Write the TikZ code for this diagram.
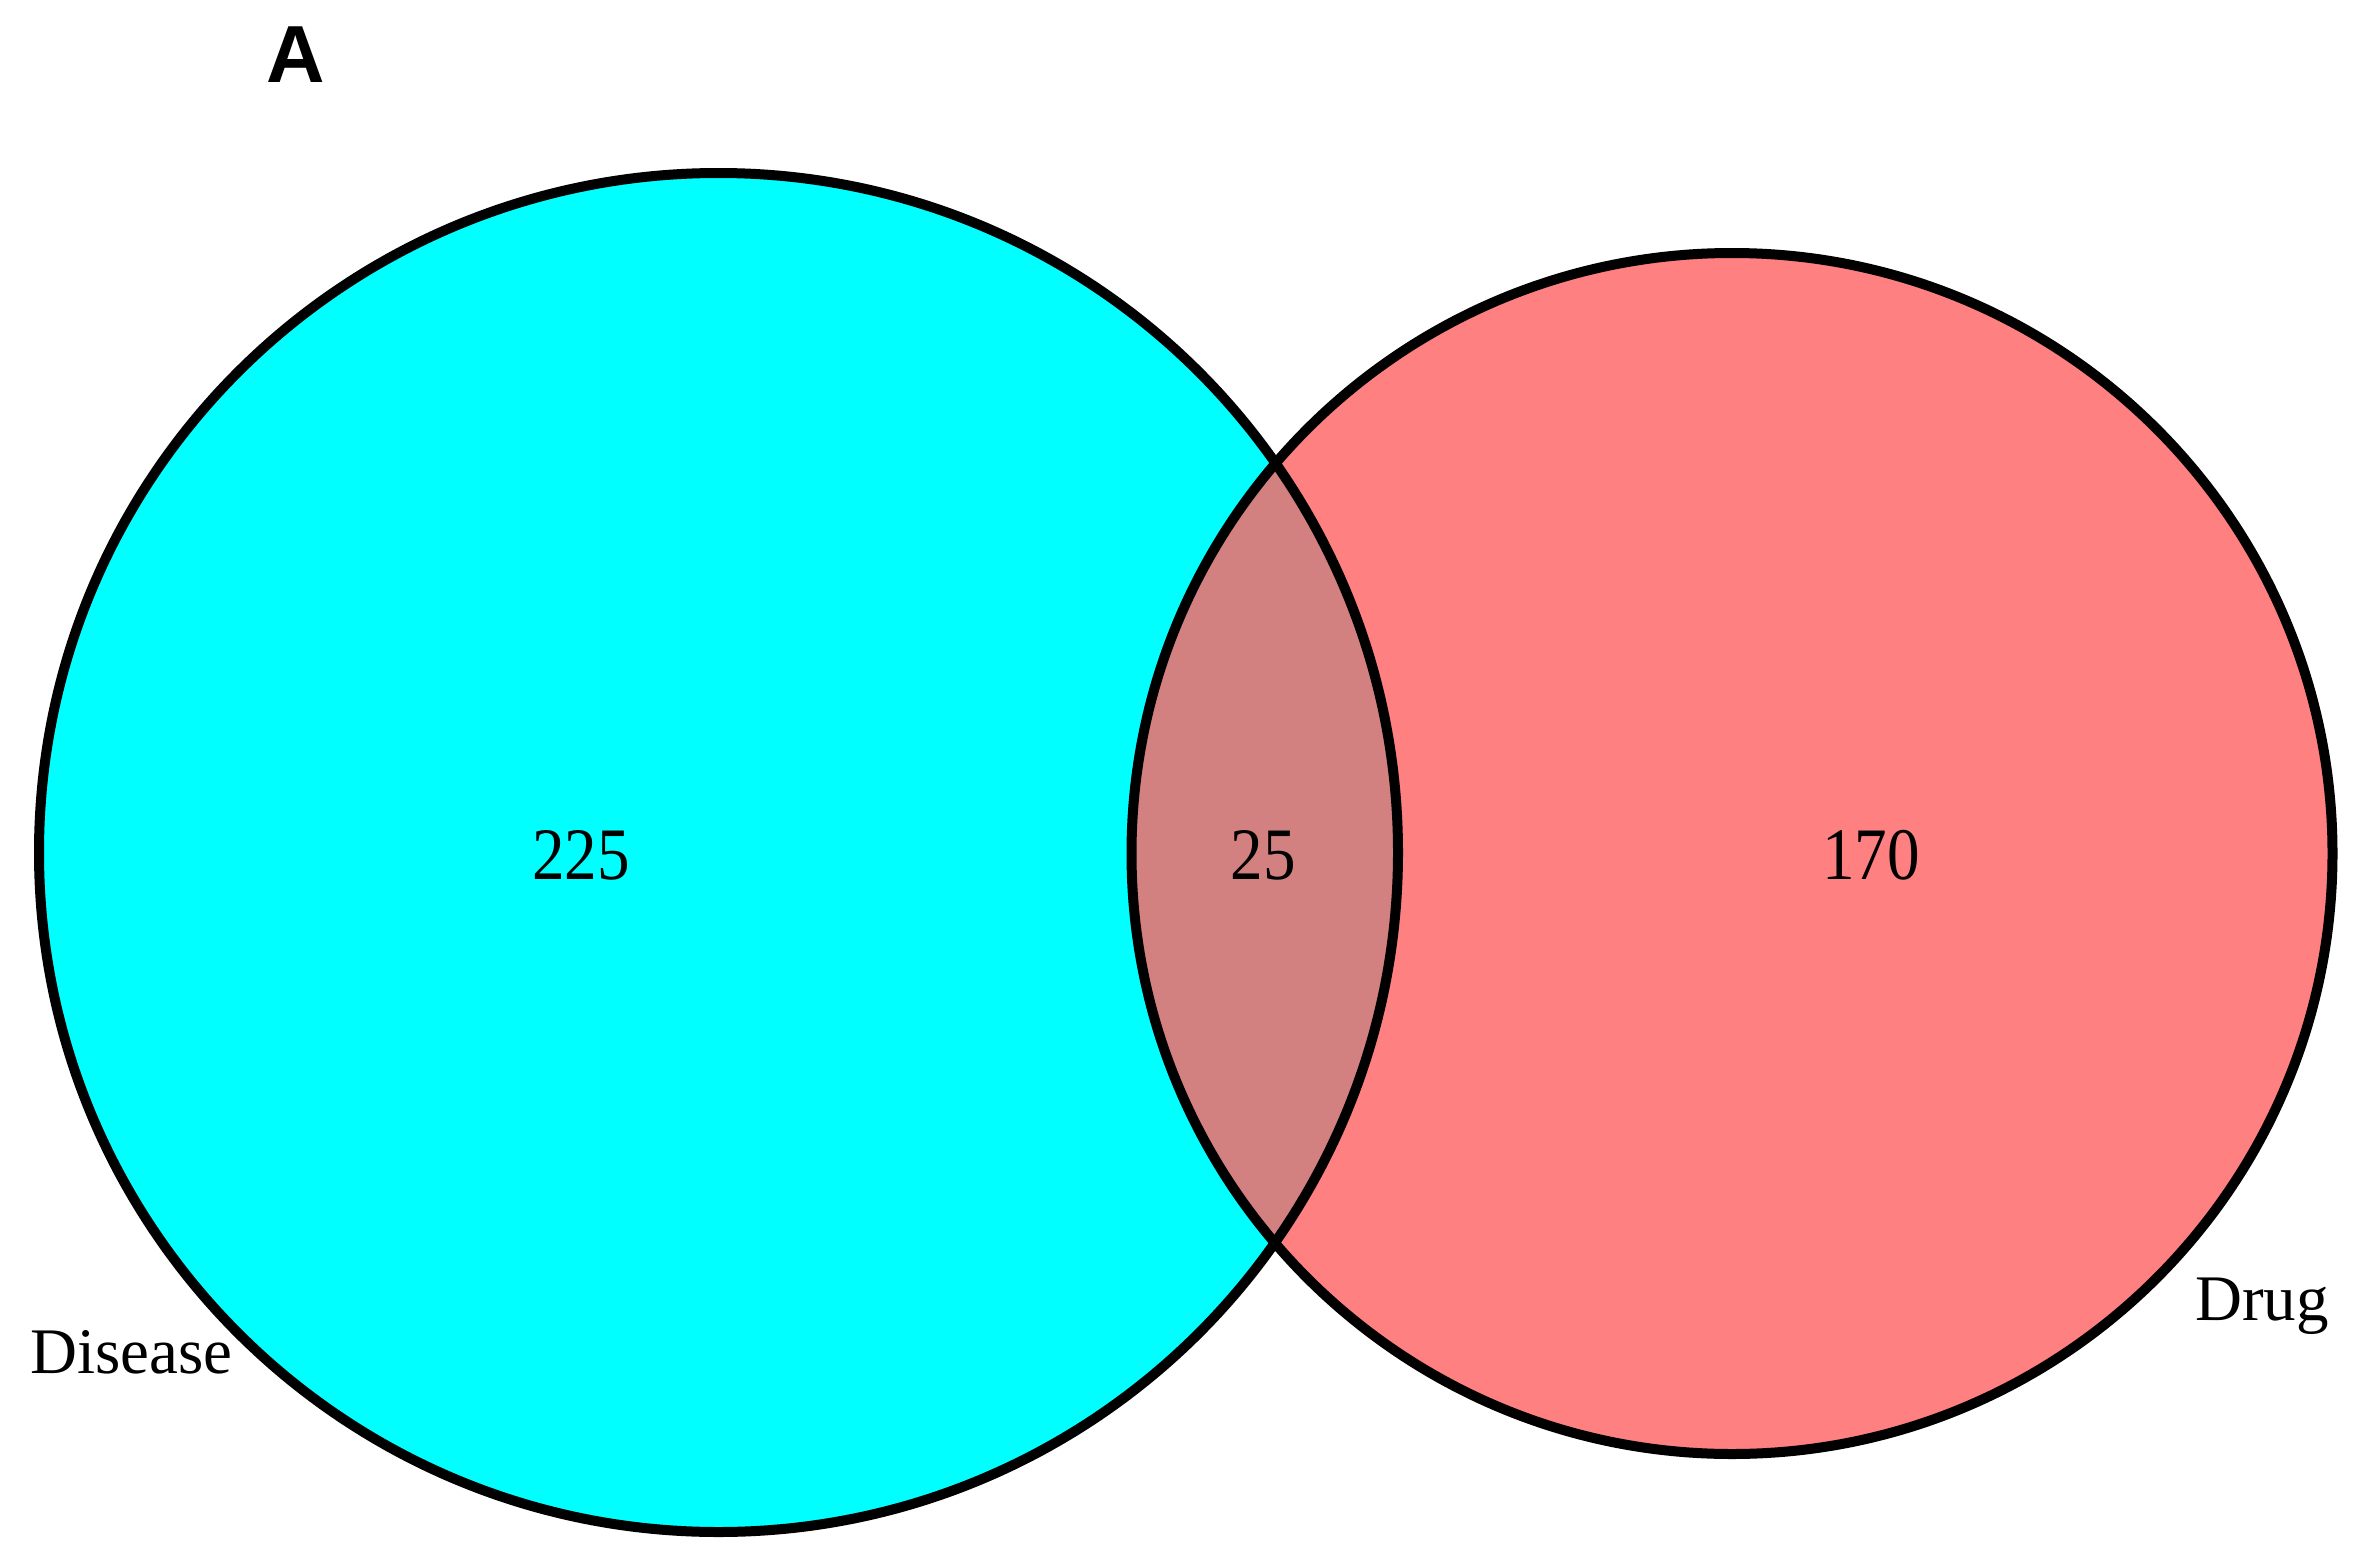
\documentclass[tikz,border=0pt]{standalone}
\usepackage{fontspec}
\setmainfont{Liberation Serif}
\newfontfamily\labelsans{Liberation Sans}
\definecolor{diseasecol}{HTML}{00FFFF}
\definecolor{drugcol}{HTML}{FF8080}
\definecolor{bothcol}{HTML}{D38080}
\begin{document}
\begin{tikzpicture}[x=1pt,y=-1pt,
  outline/.style={draw=black,line width=10pt},
  numtext/.style={inner sep=0pt,font=\fontsize{74}{74}\selectfont,xscale=0.88},
  settext/.style={inner sep=0pt,font=\fontsize{65}{65}\selectfont},
  paneltext/.style={inner sep=0pt,font=\labelsans\bfseries\fontsize{81}{81}\selectfont}]
\useasboundingbox[fill=white] (0,0) rectangle (2374,1568);
\coordinate (cL) at (718.5,852.5);
\coordinate (cR) at (1732,853.5);
\fill[diseasecol] (cL) circle[radius=679.5];
\fill[drugcol] (cR) circle[radius=600.5];
\begin{scope}
  \clip (cL) circle[radius=679.5];
  \fill[bothcol] (cR) circle[radius=600.5];
\end{scope}
\draw[outline] (cL) circle[radius=679.5];
\draw[outline] (cR) circle[radius=600.5];
\node[numtext] (n225) at (581,855) {225};
\node[numtext] (n25) at (1263,855) {25};
\node[numtext] (n170) at (1871,855) {170};
\node[settext,anchor=base west] (disease) at (30,1373) {Disease};
\node[settext,anchor=base west] (drug) at (2195,1320) {Drug};
\node[paneltext,anchor=base west] (panel) at (266,83) {A};
\end{tikzpicture}
\end{document}
